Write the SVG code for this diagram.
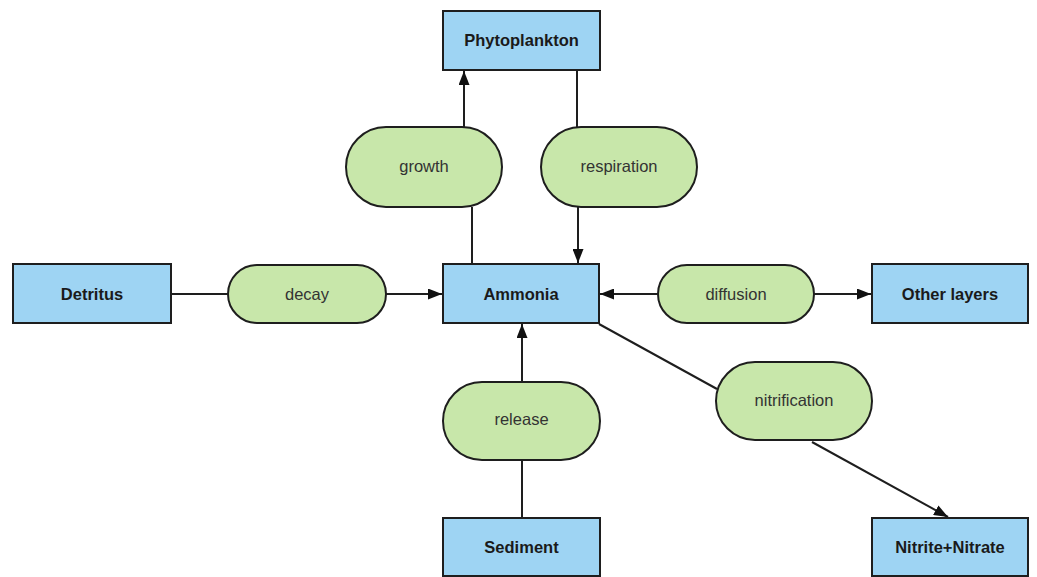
<svg xmlns="http://www.w3.org/2000/svg" width="1037" height="577" viewBox="0 0 1037 577">
<style>
.box{fill:#9ed4f3;stroke:#1e1e1e;stroke-width:2}
.pill{fill:#c8e7aa;stroke:#1e1e1e;stroke-width:2}
.bt{font-family:"Liberation Sans",Arial,sans-serif;font-weight:bold;font-size:16.5px;fill:#1a1a1a;text-anchor:middle}
.pt{font-family:"Liberation Sans",Arial,sans-serif;font-size:16.5px;fill:#333;text-anchor:middle}
.ln{stroke:#1e1e1e;stroke-width:2;fill:none}
</style>
<defs>
<marker id="ah" viewBox="0 0 14 11" refX="14" refY="5.5" markerWidth="14" markerHeight="11" markerUnits="userSpaceOnUse" orient="auto">
<path d="M0,0 L14,5.5 L0,11 z" fill="#111"/>
</marker>
</defs>
<rect width="1037" height="577" fill="#fff"/>
<g id="connectors">
<line class="ln" x1="464" y1="127" x2="464" y2="71" marker-end="url(#ah)"/>
<line class="ln" x1="472" y1="207" x2="472" y2="264"/>
<line class="ln" x1="577" y1="70" x2="577" y2="127"/>
<line class="ln" x1="578" y1="207" x2="578" y2="263" marker-end="url(#ah)"/>
<line class="ln" x1="171" y1="294" x2="228" y2="294"/>
<line class="ln" x1="386" y1="294" x2="442" y2="294" marker-end="url(#ah)"/>
<line class="ln" x1="658" y1="294" x2="600" y2="294" marker-end="url(#ah)"/>
<line class="ln" x1="814" y1="294" x2="871" y2="294" marker-end="url(#ah)"/>
<line class="ln" x1="522" y1="382" x2="522" y2="324" marker-end="url(#ah)"/>
<line class="ln" x1="522" y1="460" x2="522" y2="518"/>
<line class="ln" x1="599" y1="324" x2="717" y2="389"/>
<line class="ln" x1="812" y1="442" x2="948" y2="517" marker-end="url(#ah)"/>
</g>
<g id="phytoplankton"><rect class="box" x="443" y="11" width="157" height="59"/><text class="bt" x="521.5" y="46">Phytoplankton</text></g>
<g id="ammonia"><rect class="box" x="443" y="264" width="156" height="59"/><text class="bt" x="521" y="300">Ammonia</text></g>
<g id="detritus"><rect class="box" x="13" y="264" width="158" height="59"/><text class="bt" x="92" y="300">Detritus</text></g>
<g id="other-layers"><rect class="box" x="872" y="264" width="156" height="59"/><text class="bt" x="950" y="300">Other layers</text></g>
<g id="sediment"><rect class="box" x="443" y="518" width="157" height="58"/><text class="bt" x="521.5" y="553">Sediment</text></g>
<g id="nitrite-nitrate"><rect class="box" x="872" y="518" width="156" height="58"/><text class="bt" x="950" y="553">Nitrite+Nitrate</text></g>
<g id="growth"><rect class="pill" x="346" y="127" width="156" height="80" rx="40"/><text class="pt" x="424" y="172">growth</text></g>
<g id="respiration"><rect class="pill" x="541" y="127" width="156" height="80" rx="40"/><text class="pt" x="619" y="172">respiration</text></g>
<g id="decay"><rect class="pill" x="228" y="265" width="158" height="58" rx="29"/><text class="pt" x="307" y="300">decay</text></g>
<g id="diffusion"><rect class="pill" x="658" y="265" width="156" height="58" rx="29"/><text class="pt" x="736" y="300">diffusion</text></g>
<g id="release"><rect class="pill" x="443" y="382" width="157" height="78" rx="39"/><text class="pt" x="521.5" y="425">release</text></g>
<g id="nitrification"><rect class="pill" x="716" y="362" width="156" height="78" rx="39"/><text class="pt" x="794" y="406">nitrification</text></g>
</svg>
